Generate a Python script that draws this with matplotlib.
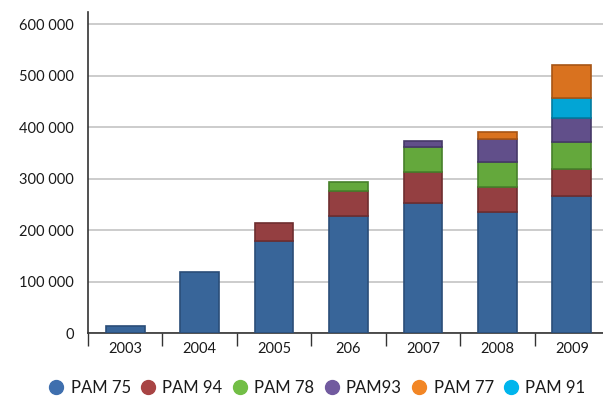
import numpy as np
import matplotlib.pyplot as plt
from matplotlib.lines import Line2D

years = ["2003", "2004", "2005", "206", "2007", "2008", "2009"]

pam75 = [15000, 120000, 180000, 228000, 254000, 236000, 266000]
pam94 = [0, 0, 35000, 48000, 60000, 49000, 53000]
pam78 = [0, 0, 0, 17000, 48000, 48000, 53000]
pam93 = [0, 0, 0, 0, 12000, 44000, 47000]
pam91 = [0, 0, 0, 0, 0, 0, 38000]
pam77 = [0, 0, 0, 0, 0, 13000, 63000]

# stacking order bottom -> top, with bar face / edge colours
stack = [
    ("PAM 75", pam75, "#386599", "#2a4d78"),
    ("PAM 94", pam94, "#943f41", "#6e2d2f"),
    ("PAM 78", pam78, "#64a83c", "#47802a"),
    ("PAM93", pam93, "#614f8a", "#463968"),
    ("PAM 91", pam91, "#02a5d5", "#017ba0"),
    ("PAM 77", pam77, "#d9721f", "#a75515"),
]
legend_items = [
    ("PAM 75", "#3f6fae"),
    ("PAM 94", "#a84444"),
    ("PAM 78", "#72be46"),
    ("PAM93", "#715a9f"),
    ("PAM 77", "#f28625"),
    ("PAM 91", "#00b5ed"),
]

plt.rcParams["font.family"] = ["Lato", "DejaVu Sans"]

fig = plt.figure(figsize=(6.03, 3.96), dpi=100)
ax = fig.add_axes([0.146, 0.158, 0.864, 0.812])

x = np.arange(len(years))
bottom = np.zeros(len(years))
for name, vals, face, edge in stack:
    vals = np.array(vals, dtype=float)
    keep = vals > 0
    ax.bar(x[keep], vals[keep], width=0.52, bottom=bottom[keep], color=face,
           edgecolor=edge, linewidth=1.2, zorder=3)
    bottom += vals

ax.set_xlim(-0.5, 6.5)
ax.set_ylim(0, 624000)
ax.set_yticks(range(0, 600001, 100000))
ax.set_yticklabels(["0"] + [f"{v // 1000} 000" for v in range(100000, 600001, 100000)])
ax.yaxis.grid(True, color="#c8c8c8", linewidth=1.3, zorder=0)
ax.tick_params(axis="y", length=0, pad=10, labelsize=10.5, colors="#1a1a1a")

ax.set_xticks(x)
ax.set_xticklabels(years)
ax.set_xticks(np.arange(-0.5, 7, 1), minor=True)
ax.tick_params(axis="x", which="major", length=0, pad=6, labelsize=10.5, colors="#1a1a1a")
ax.tick_params(axis="x", which="minor", length=9, width=1, color="#333333")

for side in ["top", "right"]:
    ax.spines[side].set_visible(False)
ax.spines["left"].set_color("#333333")
ax.spines["bottom"].set_color("#333333")
ax.spines["left"].set_linewidth(1.2)
ax.spines["bottom"].set_linewidth(1.2)

handles = [Line2D([], [], marker="o", linestyle="none", markersize=10,
                  markerfacecolor=c, markeredgecolor=c) for _, c in legend_items]
fig.legend(handles, [n for n, _ in legend_items], loc="center",
           bbox_to_anchor=(0.526, 0.02), ncol=6, frameon=False,
           fontsize=12, handlelength=0.9, handletextpad=0.4, columnspacing=0.6,
           labelcolor="#1a1a1a")

fig.savefig("out.png", dpi=100)
